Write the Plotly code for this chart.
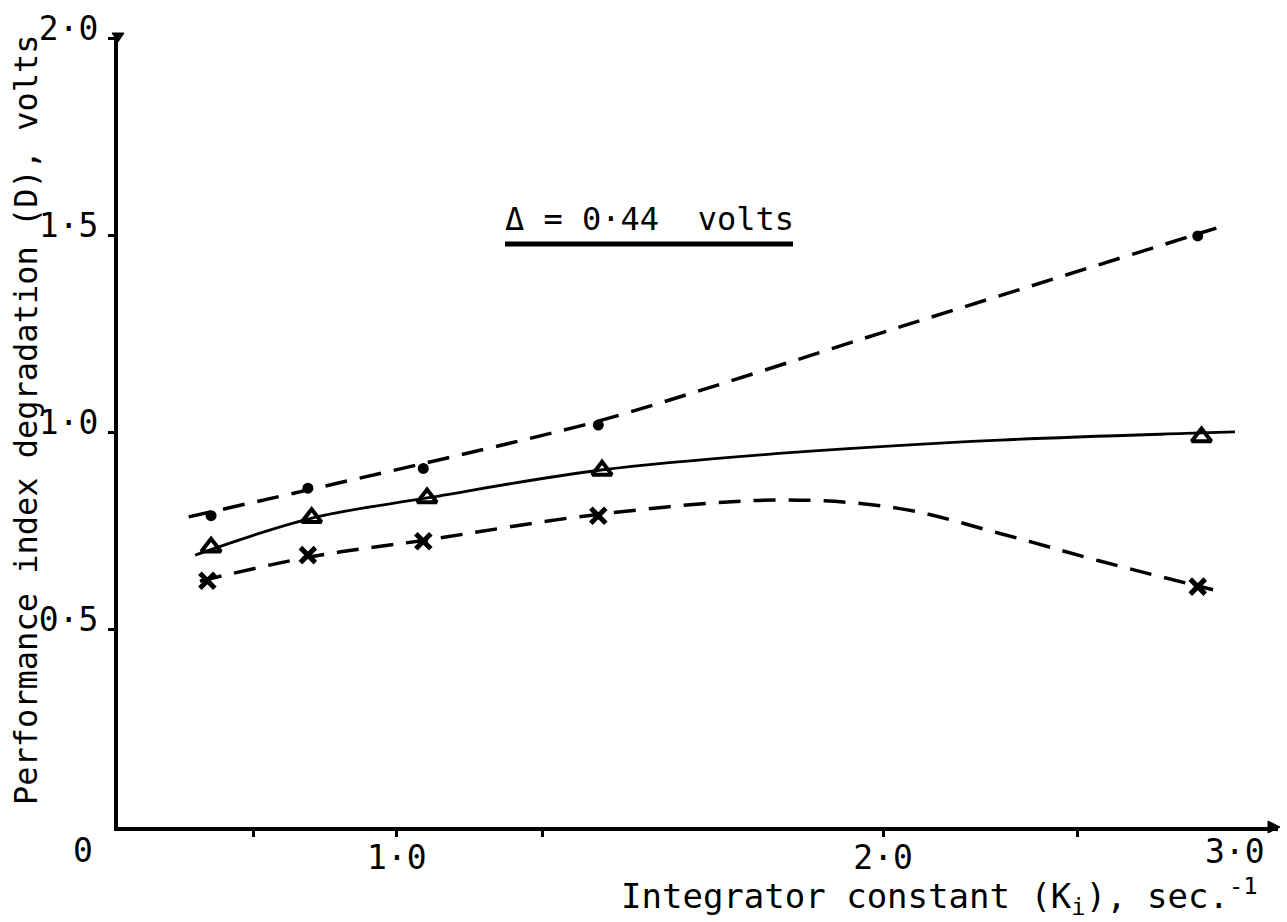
import plotly.graph_objects as go

# ---- data (x in Ki units, y in volts) ----
k_circle = [0.25, 0.51, 0.82, 1.29, 2.90]
d_circle = [0.79, 0.86, 0.91, 1.02, 1.50]
k_tri = [0.25, 0.52, 0.83, 1.30, 2.91]
d_tri = [0.71, 0.785, 0.835, 0.905, 0.99]
k_cross = [0.24, 0.51, 0.82, 1.29, 2.90]
d_cross = [0.625, 0.69, 0.725, 0.79, 0.61]

# hand-drawn fitted curves, read at several points
fit_circle_k = [0.19, 1.29, 2.13, 2.95]
fit_circle_d = [0.787, 1.030, 1.278, 1.52]
fit_tri_k = [0.207, 0.521, 0.830, 1.297, 1.832, 2.369, 2.906, 3.0]
fit_tri_d = [0.690, 0.784, 0.835, 0.906, 0.952, 0.982, 1.000, 1.003]
fit_cross_k = [0.220, 0.513, 0.825, 1.295, 1.778, 2.100, 2.369, 2.637, 2.941]
fit_cross_d = [0.624, 0.685, 0.728, 0.794, 0.830, 0.808, 0.745, 0.675, 0.602]

# axis ticks as drawn on the original
x_tickvals = [0.363, 0.749, 1.139, 2.055, 2.578]
x_ticktext = ["", "1·0", "", "2·0", ""]
y_tickvals = [0.5, 1.0, 1.5, 2.0]
y_ticktext = ["0·5", "1·0", "1·5", "2·0"]
x_extra_label = ("3·0", 3.0)
origin_label = "0"

x_title = "Integrator constant (K<sub>i</sub>), sec.<sup>-1</sup>"
y_title = "Performance index degradation (D), volts"
delta_text = "Δ = 0·44  volts"

FONT = "DejaVu Sans Mono, Liberation Mono, monospace"
W, H = 1287, 922
L, R, T, B = 118, 9, 35, 95
XMAX = 3.1155
YMAX = 2.010
pw, ph = W - L - R, H - T - B


def px_to_paper(px, py):
    return (px - L) / pw, (H - B - py) / ph


fig = go.Figure()

dash = "22px,13px"
fig.add_trace(go.Scatter(x=fit_circle_k, y=fit_circle_d, mode="lines",
                         line=dict(color="black", width=3.5, dash=dash, shape="spline", smoothing=0.6),
                         showlegend=False, hoverinfo="skip"))
fig.add_trace(go.Scatter(x=fit_tri_k, y=fit_tri_d, mode="lines",
                         line=dict(color="black", width=2.8, shape="spline"),
                         showlegend=False, hoverinfo="skip"))
fig.add_trace(go.Scatter(x=fit_cross_k, y=fit_cross_d, mode="lines",
                         line=dict(color="black", width=3.5, dash=dash, shape="spline"),
                         showlegend=False, hoverinfo="skip"))

fig.add_trace(go.Scatter(x=k_circle, y=d_circle, mode="markers",
                         marker=dict(symbol="circle", size=11, color="black"),
                         showlegend=False))
fig.add_trace(go.Scatter(x=k_tri, y=d_tri, mode="markers",
                         marker=dict(symbol="triangle-up-open", size=17, color="black",
                                     line=dict(width=4, color="black")),
                         showlegend=False))
fig.add_trace(go.Scatter(x=k_cross, y=d_cross, mode="markers",
                         marker=dict(symbol="x-thin-open", size=15, color="black",
                                     line=dict(width=5, color="black")),
                         showlegend=False))

fig.update_layout(
    width=W, height=H,
    margin=dict(l=L, r=R, t=T, b=B),
    paper_bgcolor="white", plot_bgcolor="white",
    font=dict(family=FONT, color="black", size=30),
    xaxis=dict(range=[0, XMAX], showgrid=False, zeroline=False,
               showline=True, linecolor="black", linewidth=4,
               ticks="outside", ticklen=6, tickwidth=3, tickcolor="black",
               tickvals=x_tickvals, ticktext=x_ticktext,
               tickfont=dict(family=FONT, size=33), ticklabelstandoff=-8),
    yaxis=dict(range=[0, YMAX], showgrid=False, zeroline=False,
               showline=True, linecolor="black", linewidth=4,
               ticks="outside", ticklen=6, tickwidth=3, tickcolor="black",
               tickvals=y_tickvals, ticktext=y_ticktext,
               tickfont=dict(family=FONT, size=33), ticklabelstandoff=3,
               ticklabelshift=-11),
)


def ann(text, px, py, size, xanchor="center", angle=0):
    ax, ay = px_to_paper(px, py)
    return dict(text=text, x=ax, y=ay, xref="paper", yref="paper",
                xanchor=xanchor, yanchor="middle", textangle=angle,
                showarrow=False, font=dict(size=size))


x3_px = L + x_extra_label[1] / XMAX * pw
annotations = [
    ann(x_extra_label[0], x3_px, 851, 33),
    ann(origin_label, 83, 850, 33),
    ann(x_title, 1260, 896, 34, xanchor="right"),
    ann(y_title, 26, 420, 32, angle=-90),
    ann(delta_text, 649, 219, 32),
]
fig.update_layout(annotations=annotations)

# underline of the delta note and axis arrowheads (decoration)
u0, uy = px_to_paper(505, 244)
u1, _ = px_to_paper(793, 244)
shapes = [
    dict(type="line", xref="paper", yref="paper", x0=u0, x1=u1, y0=uy, y1=uy,
         line=dict(color="black", width=5)),
]
ex, ey = px_to_paper(1278, 827)
dx, dy = 10 / pw, 6 / ph
shapes.append(dict(type="path", xref="paper", yref="paper",
                   path=f"M {ex-dx} {ey+dy} L {ex+2/pw} {ey} L {ex-dx} {ey-dy} Z",
                   fillcolor="black", line=dict(color="black", width=1)))
tx, ty = px_to_paper(118, 35)
dx2, dy2 = 6 / pw, 7 / ph
shapes.append(dict(type="path", xref="paper", yref="paper",
                   path=f"M {tx-dx2} {ty+2/ph} L {tx+dx2} {ty+2/ph} L {tx} {ty-dy2} Z",
                   fillcolor="black", line=dict(color="black", width=1)))
fig.update_layout(shapes=shapes)

fig.write_html("out.html")
